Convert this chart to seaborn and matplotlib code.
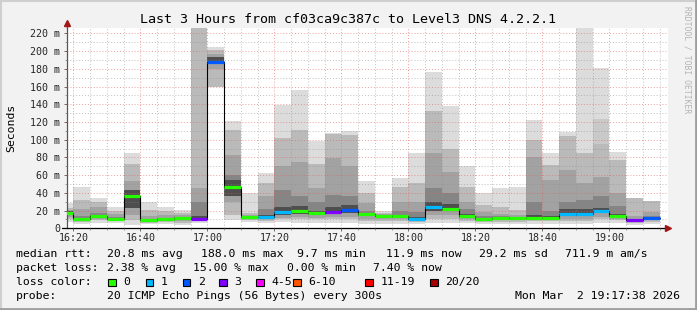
import numpy as np
import pandas as pd
import matplotlib
matplotlib.use("Agg")
import matplotlib.pyplot as plt
import seaborn as sns
from matplotlib.lines import Line2D
from matplotlib.patches import Rectangle

# ---------------- data ----------------
slot_start = [15 + 5 * i for i in range(36)]  # minutes after 16:00, 5-min slots
ping_min = [7.5, 5, 6.4, 6.4, 4, 5, 5, 4, 6.4, 159, 9.4, 7.5, 6.4, 7.5, 6.4, 6.4, 6.4, 6.4,
            5, 5, 5, 5, 6.4, 6.4, 5.5, 5, 5, 5, 5, 5, 5, 5, 6.4, 6.4, 4, 5]
ping_p10 = [10, 7, 9, 8, 9, 6.5, 7, 6, 8, 160, 15, 9, 8, 10, 10, 10, 10, 10,
            8, 8, 8, 7, 10, 10, 8, 7, 7, 7, 8, 8, 8, 8, 10, 9, 6, 7]
ping_p25 = [13, 8.5, 11, 9, 15, 8, 8.5, 8, 9.5, 180, 30, 11, 10, 12, 13, 12, 13, 13,
            11, 10, 10, 9, 15, 15, 10, 9, 9, 9, 10, 10, 11, 11, 13, 11, 8, 9]
ping_p40 = [15.5, 9.5, 12.5, 10, 23, 9, 10, 10.5, 10, 185, 36, 12, 12, 15, 16, 15, 16, 17,
            14, 12.5, 12, 10, 20, 19, 12, 10, 11, 11, 11, 11, 14, 14, 17, 13, 9, 11]
median_rtt = [17.5, 10.5, 14, 11, 36, 9.5, 10.5, 11.7, 11, 188, 47, 13, 13, 18.4, 20, 17.7, 18, 20.7,
              16, 14, 14, 11, 24, 22, 14.3, 11, 12, 12, 12, 12, 16.5, 16.5, 20, 14.3, 9.4, 12]
ping_p55 = [19, 12, 15.5, 12, 43, 10.5, 11.5, 12.5, 14, 193, 55, 13.5, 15, 24, 25, 20, 24, 26,
            17, 14.5, 15, 13, 30, 27, 16, 12, 13, 13, 15, 14, 22, 22, 23, 16, 10.5, 13]
ping_p60 = [19, 14, 17, 13, 43, 11, 12, 13, 30, 193, 60, 14, 22, 43, 36, 30, 38, 36,
            20, 15, 20, 18, 45, 40, 22, 14, 13.5, 13, 30, 20, 30, 32, 36, 25, 11, 14]
ping_p75 = [21, 22, 24, 16, 53, 14, 15, 15, 45, 197, 83, 15.5, 36, 70, 75, 45, 79, 70,
            28, 16.5, 30, 30, 85, 64, 30, 18, 16, 15, 81, 54.5, 66, 51, 58, 39.5, 14, 18]
ping_p90 = [22.5, 32, 30, 19, 73, 20.7, 19, 17, 240, 201, 111, 17, 51, 101.6, 111, 73, 106, 105,
            39.5, 17, 47, 51, 132, 90, 47, 26, 24.5, 21, 100, 71, 104, 85, 95, 77, 34, 31]
ping_p95 = [22.5, 32, 30, 19, 73, 20.7, 19, 17, 240, 201, 111, 17, 51, 101.6, 111, 73, 106, 105,
            39.5, 17, 47, 51, 132, 90, 47, 26, 24.5, 21, 100, 71, 104, 85, 123, 77, 34, 31]
ping_max = [28, 47, 34, 24.5, 85, 30, 24.5, 20.7, 300, 205, 121, 39.5, 62, 139, 156, 98.6, 108, 110,
            53, 20, 56.4, 85, 176.5, 138, 70, 39.5, 46, 47, 122, 85, 108.7, 250, 180.6, 85.8, 34, 31]
lost_pings = [0, 0, 0, 0, 0, 0, 0, 0, 3, 2, 0, 0, 1, 1, 0, 0, 3, 2,
              0, 0, 0, 1, 1, 0, 0, 0, 0, 0, 0, 0, 1, 1, 1, 0, 3, 2]

x_tick_pos = [20, 40, 60, 80, 100, 120, 140, 160, 180]
x_tick_labels = ["16:20", "16:40", "17:00", "17:20", "17:40", "18:00", "18:20", "18:40", "19:00"]
y_tick_vals = [0, 20, 40, 60, 80, 100, 120, 140, 160, 180, 200, 220]
y_tick_labels = ["0"] + [f"{v} m" for v in y_tick_vals[1:]]

loss_labels = ["0", "1", "2", "3", "4-5", "6-10", "11-19", "20/20"]
loss_colors = ["#26ff00", "#00b8ff", "#0059ff", "#7e00ff", "#ff00ff", "#ff5500", "#ff0000", "#a10000"]
loss_color_of = {0: "#26ff00", 1: "#00b8ff", 2: "#0059ff", 3: "#7e00ff"}

df = pd.DataFrame(dict(start=slot_start, mn=ping_min, p10=ping_p10, p25=ping_p25, p40=ping_p40,
                       med=median_rtt, p55=ping_p55, p60=ping_p60, p75=ping_p75, p90=ping_p90,
                       p95=ping_p95, mx=ping_max, loss=lost_pings))

# ---------------- figure ----------------
sns.set_theme(style="white")
plt.rcParams["font.family"] = ["DejaVu Sans Mono"]
W, H = 697, 310
fig = plt.figure(figsize=(W / 100, H / 100), dpi=100, facecolor="#f2f2f2")

ax_l, ax_r, ax_t, ax_b = 66.7, 668.0, 28.0, 228.3
ax = fig.add_axes([ax_l / W, 1 - ax_b / H, (ax_r - ax_l) / W, (ax_b - ax_t) / H])
ax.set_facecolor("white")

# smoke bands (outer -> inner)
bands = [("mn", "mx", "#dcdcdc"), ("p10", "p95", "#c9c9c9"), ("p10", "p90", "#bababa"),
         ("p25", "p75", "#a2a2a2"), ("p40", "p60", "#858585"), ("p40", "p55", "#4e4e4e")]
for lo, hi, col in bands:
    ax.bar(df["start"], df[hi] - df[lo], bottom=df[lo], width=5, align="edge",
           color=col, linewidth=0, edgecolor="none", zorder=1)

# median step line
edges = list(df["start"]) + [df["start"].iloc[-1] + 5]
meds = list(df["med"]) + [df["med"].iloc[-1]]
step_df = pd.DataFrame(dict(t=edges, m=meds))
sns.lineplot(data=step_df, x="t", y="m", estimator=None, drawstyle="steps-post",
             color="black", linewidth=0.8, ax=ax, zorder=3)
ax.hlines(df["med"], df["start"], df["start"] + 5,
          colors=[loss_color_of[v] for v in df["loss"]], linewidth=2.3, zorder=4)

ax.set_xlim(18.03, 197.5)
ax.set_ylim(0, 226.1)
ax.set_xlabel("")
ax.set_ylabel("")

ax.set_xticks(x_tick_pos)
ax.set_xticklabels(x_tick_labels)
ax.set_xticks(np.arange(20, 197, 5), minor=True)
ax.set_yticks(y_tick_vals)
ax.set_yticklabels(y_tick_labels)
ax.set_yticks(np.arange(10, 221, 10), minor=True)

ax.set_axisbelow(False)
ax.grid(which="minor", color="#8c8c8c", alpha=0.55, linestyle=(0, (1, 2)), linewidth=0.7)
ax.grid(which="major", color="#e06060", alpha=0.6, linestyle=(0, (1, 2)), linewidth=0.7)

ax.tick_params(axis="both", which="major", labelsize=7.2, length=2, width=0.6, color="#555555",
               direction="out")
ax.tick_params(axis="both", which="minor", length=1.2, width=0.5, color="#777777", direction="out")
ax.tick_params(axis="x", pad=1.5)
ax.tick_params(axis="y", pad=2.8)
ax.tick_params(bottom=True, left=True, which="both")

for s in ["top", "right"]:
    ax.spines[s].set_visible(False)
ax.spines["left"].set_color("#555555")
ax.spines["left"].set_linewidth(0.9)
ax.spines["bottom"].set_color("black")
ax.spines["bottom"].set_linewidth(0.9)

# axis arrows
ax.plot([0], [1.0 + 5 / 200], marker="^", color="#a01818", markersize=4.5,
        transform=ax.transAxes, clip_on=False, zorder=6)
ax.plot([0, 0], [1.0, 1.02], color="#555555", lw=0.9, transform=ax.transAxes, clip_on=False)
ax.plot([1.0], [0], marker=">", color="#a01818", markersize=4.5,
        transform=ax.transAxes, clip_on=False, zorder=6)
fig.add_artist(Line2D([62 / W, ax_l / W], [1 - ax_b / H, 1 - ax_b / H], color="black", lw=0.9))

# frame shading
fig.add_artist(Line2D([0, 1], [1 - 0.5 / H, 1 - 0.5 / H], color="#cfcfcf", lw=1.5))
fig.add_artist(Line2D([0.5 / W, 0.5 / W], [0, 1], color="#cfcfcf", lw=1.5))
fig.add_artist(Line2D([0, 1], [1.2 / H, 1.2 / H], color="#9e9e9e", lw=2))
fig.add_artist(Line2D([1 - 1.2 / W, 1 - 1.2 / W], [0, 1], color="#9e9e9e", lw=2))

# texts
def ftext(xp, yp, s, **kw):
    kw.setdefault("fontsize", 8.25)
    kw.setdefault("va", "center")
    kw.setdefault("ha", "left")
    fig.text(xp / W, 1 - yp / H, s, color=kw.pop("color", "black"), **kw)

ftext(348, 19.3, "Last 3 Hours from cf03ca9c387c to Level3 DNS 4.2.2.1", fontsize=9.6, ha="center")
ftext(11, 127.7, "Seconds", rotation=90, ha="center")
ftext(687, 60, "RRDTOOL / TOBI OETIKER", rotation=270, ha="center", fontsize=5.8, color="#b4b4b4")

row1 = [(16, "median rtt:"), (107.3, "20.8 ms avg"), (201, "188.0 ms max"), (296.7, "9.7 ms min"),
        (386.3, "11.9 ms now"), (479.3, "29.2 ms sd"), (565.3, "711.9 m am/s")]
row2 = [(16, "packet loss:"), (107.3, "2.38 % avg"), (193.3, "15.00 % max"), (286.7, "0.00 % min"),
        (372.7, "7.40 % now")]
for xp, s in row1:
    ftext(xp, 254.3, s)
for xp, s in row2:
    ftext(xp, 268.3, s)

ftext(16, 282.3, "loss color:")
sw_x = [108.3, 145.7, 182.7, 219.3, 256.3, 293.3, 365.3, 430.3]
for xp, lab, col in zip(sw_x, loss_labels, loss_colors):
    fig.add_artist(Rectangle((xp / W, 1 - 286.3 / H), 7.5 / W, 7.5 / H, facecolor=col,
                             edgecolor="black", linewidth=0.8))
    ftext(xp + 15, 282.3, lab)

ftext(16, 296, "probe:")
ftext(107.3, 296, "20 ICMP Echo Pings (56 Bytes) every 300s")
ftext(680.3, 296, "Mon Mar  2 19:17:38 2026", ha="right")

fig.savefig("out.png", dpi=100, facecolor=fig.get_facecolor())
